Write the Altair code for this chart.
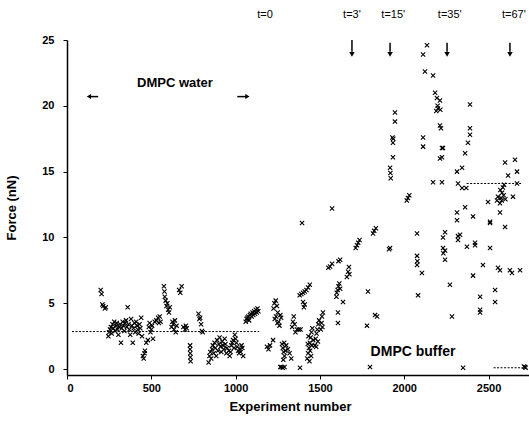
import altair as alt
import pandas as pd

# ---- data ----
water_x = [200, 205, 210, 215, 225, 230,
           245, 250, 255, 260, 265, 270, 275, 280, 285, 290, 295, 300, 305, 310, 315, 320,
           325, 330, 335, 340, 345, 350, 355, 360, 365, 370, 375, 380, 385, 390, 395, 400,
           405, 410, 415, 420, 425, 430, 435, 440, 445,
           450, 455, 460, 462,
           470, 480, 485, 490, 495, 500, 505, 510, 520, 530, 540, 545, 550, 555,
           575, 578, 580, 585, 590, 595, 600, 605, 610,
           620, 625, 630, 635, 640, 645, 650,
           665, 672, 680,
           690, 700, 705, 710,
           730, 730, 731, 732, 733,
           780, 785, 790, 795, 800, 805,
           840, 845, 850, 855, 860, 865, 870, 875, 880, 885, 890, 895, 900, 905, 910, 915,
           920, 925, 930, 935, 940, 945, 950,
           960, 965, 970, 975, 980, 985, 990,
           995, 1000, 1005, 1010, 1015, 1020, 1025, 1030, 1035, 1040, 1045,
           1060, 1065, 1070, 1075, 1080, 1085, 1090, 1095, 1100, 1105, 1110, 1115, 1120,
           1125, 1130, 1135]
water_y = [6.0, 5.7, 4.9, 4.8, 4.6, 4.7,
           2.5, 2.8, 3.0, 3.2, 2.7, 3.4, 3.1, 3.6, 2.9, 3.3, 3.5, 3.0, 2.6, 3.2, 3.4, 2.0,
           3.1, 3.6, 3.3, 2.9, 3.5, 3.7, 3.2, 4.7, 3.4, 3.0, 2.6, 3.8, 3.3, 2.0, 3.1, 3.5,
           2.8, 3.6, 3.3, 3.0, 2.7, 3.4, 3.1, 3.9, 2.5,
           1.0, 0.8, 1.2, 1.4,
           2.0, 2.2, 3.2, 3.5, 2.8, 3.0, 3.3, 2.3, 3.6, 3.7, 3.9, 3.5, 4.0, 3.6,
           6.3, 5.9, 5.5, 5.2, 4.8, 5.0, 4.5, 4.3, 4.7,
           3.2, 3.6, 3.4, 3.0, 3.7, 2.8, 3.3,
           6.0, 5.8, 6.3,
           3.2, 3.0, 3.3, 3.1,
           1.8, 1.5, 1.2, 0.9, 0.6,
           4.2, 3.8, 3.9, 3.4, 2.9, 2.8,
           0.5, 1.0, 1.3, 0.8, 1.5, 1.8, 1.2, 2.0, 1.6, 1.0, 2.2, 1.4, 1.9, 2.4, 1.7, 1.3,
           2.1, 1.8, 1.5, 2.3, 1.9, 1.2, 1.6,
           1.4, 1.0, 1.3, 1.8, 2.0, 2.2, 1.6,
           2.6, 2.3, 2.0, 1.7, 1.4, 1.2, 1.5, 1.3, 1.8, 1.6, 1.0,
           3.6, 3.8, 3.9, 4.0, 3.7, 4.1, 4.2, 4.0, 4.3, 4.1, 4.4, 4.2, 4.5,
           4.3, 4.6, 4.4]

trans_x = [1186, 1195, 1204, 1222,
           1225, 1230, 1238, 1245, 1250, 1240, 1232, 1255, 1260, 1265, 1270, 1248,
           1275, 1280, 1285, 1290, 1283, 1295, 1300, 1288, 1310, 1320, 1330,
           1265, 1272, 1280, 1290, 1382,
           1335, 1340, 1345, 1350, 1364, 1355, 1375, 1385,
           1394, 1400, 1405, 1410,
           1380, 1390, 1400, 1410, 1420, 1430, 1440,
           1425, 1430, 1435, 1440, 1445, 1450, 1455, 1432, 1448, 1442, 1438, 1452, 1460, 1428,
           1470, 1475, 1480, 1485, 1490, 1495, 1478, 1488,
           1505, 1510, 1512, 1518, 1515,
           1572, 1550, 1560, 1572, 1610, 1620,
           1598, 1600, 1605, 1610, 1615, 1620,
           1607, 1607, 1637,
           1660, 1667, 1672, 1675,
           1712, 1720, 1727, 1735,
           1779, 1785, 1797, 1827, 1839, 1815, 1822, 1832]
trans_y = [1.7, 1.5, 1.8, 2.2,
           4.6, 5.0, 5.2, 4.8, 4.3, 4.0, 3.8, 3.6, 3.3, 4.1, 3.9, 3.5,
           1.9, 1.6, 1.3, 1.0, 0.7, 1.4, 1.8, 2.0, 1.5, 1.2, 0.8,
           0.15, 0.15, 0.1, 0.15, 0.1,
           3.2, 3.6, 4.0, 3.4, 3.0, 2.8, 3.0, 3.0,
           11.1, 5.1, 4.7, 4.9,
           5.6, 5.7, 5.8, 5.9, 6.0, 6.2, 6.4,
           0.8, 1.2, 1.6, 2.0, 2.4, 2.8, 3.1, 2.5, 1.0, 1.4, 0.6, 1.8, 2.2, 1.9,
           1.8, 2.3, 2.7, 3.0, 3.4, 3.7, 1.7, 2.1,
           3.0, 3.5, 4.0, 4.3, 3.2,
           12.2, 7.7, 7.8, 8.0, 8.2, 8.3,
           5.5, 5.8, 6.0, 6.3, 6.5, 6.1,
           4.3, 3.5, 5.1,
           7.0, 7.4, 7.75, 7.2,
           9.2, 9.4, 9.6, 9.8,
           3.3, 5.9, 0.15, 4.1, 4.0, 10.3, 10.5, 10.7]

buffer_x = [1910, 1916, 1916, 1918, 1920, 1930, 1933, 1935, 1933, 1945, 1945,
            2015, 2022, 2030,
            2076, 2076, 2078, 2076, 2105, 2082,
            2112, 2135, 2123, 2171, 2183, 2194, 2198, 2190, 2200, 2212, 2230, 2212,
            2112, 2112,
            2171, 2212, 2214, 2218, 2224, 2224, 2224,
            2230, 2230, 2232, 2242, 2242, 2242, 2271, 2283,
            2313, 2313, 2331, 2319, 2319, 2361, 2408,
            2390, 2390, 2390, 2378, 2361, 2343, 2313, 2319, 2343, 2368,
            2372, 2420, 2420, 2408, 2450, 2450, 2450, 2467, 2349,
            2497, 2509, 2509, 2509, 2539, 2539, 2550, 2556, 2568, 2568, 2568,
            2598, 2598, 2616, 2627, 2639, 2657, 2669, 2687, 2645, 2556, 2669,
            2575, 2580, 2585, 2590, 2578, 2592, 2570, 2600,
            2710, 2716, 2720]
buffer_y = [9.1, 9.2, 15.3, 14.9, 14.5, 17.6, 17.2, 17.5, 16.1, 19.5, 18.8,
            12.8, 13.0, 13.2,
            10.3, 8.6, 8.2, 7.9, 7.3, 5.6,
            23.9, 24.6, 22.6, 22.3, 21.0, 20.6, 20.0, 19.6, 19.8, 18.5, 16.8, 16.0,
            17.6, 16.9,
            14.2, 20.4, 19.7, 18.3, 16.8, 16.1, 14.2,
            10.0, 9.2, 8.8, 10.4, 9.0, 8.3, 6.4, 4.0,
            11.3, 11.9, 10.2, 9.8, 10.1, 12.3, 11.6,
            20.1, 18.3, 17.8, 17.2, 16.4, 15.3, 15.0, 14.1, 13.75, 13.75,
            9.3, 9.4, 9.6, 7.1, 5.5, 4.5, 4.3, 7.9, 0.1,
            12.7, 11.2, 11.1, 9.2, 6.0, 5.1, 12.8, 7.7, 12.6, 11.9, 7.5,
            10.8, 15.7, 14.7, 7.5, 7.3, 15.9, 15.0, 7.5, 13.1, 13.1, 14.1,
            13.0, 13.4, 13.8, 13.2, 12.8, 14.0, 13.6, 12.9,
            0.2, 0.15, 0.1]

# mean-level segments
mean_x1 = [30, 2370, 2530]
mean_x2 = [1140, 2700, 2700]
mean_y = [2.85, 14.1, 0.1]

# time markers
t_labels = ["t=0", "t=3'", "t=15'", "t=35'", "t=67'"]
t_x = [1174, 1690, 1935, 2270, 2650]
arrow_x = [1690, 1916, 2254, 2627]

pts = pd.DataFrame({"x": water_x + trans_x + buffer_x,
                    "y": water_y + trans_y + buffer_y})
means = pd.DataFrame({"x1": mean_x1, "x2": mean_x2, "y": mean_y})
tlab = pd.DataFrame({"t": t_labels, "x": t_x, "y": [26.9] * len(t_x)})
arr = pd.DataFrame({"x": arrow_x, "y1": [25.0, 24.8, 24.8, 24.8], "y2": [24.1] * 4,
                    "yh": [23.9] * 4})

X = alt.Scale(domain=[0, 2740], nice=False, zero=False)
Y = alt.Scale(domain=[-0.45, 25], nice=False, zero=False)
FONT = "Liberation Sans"

xaxis = alt.Axis(values=[0, 500, 1000, 1500, 2000, 2500], format="d", title="Experiment number",
                 labelFont=FONT, labelFontWeight="bold", labelFontSize=11, labelColor="black",
                 titleFont=FONT, titleFontWeight="bold", titleFontSize=13, titleColor="black",
                 titleX=223, titleY=25, grid=False, tickSize=4, tickColor="black",
                 domainColor="black", domainWidth=1.5, labelPadding=3)
yaxis = alt.Axis(values=[0, 2.5, 5, 7.5, 10, 12.5, 15, 17.5, 20, 22.5, 25],
                 labelExpr="datum.value % 5 == 0 ? datum.label : ''",
                 title="Force (nN)",
                 labelFont=FONT, labelFontWeight="bold", labelFontSize=11, labelColor="black",
                 titleFont=FONT, titleFontWeight="bold", titleFontSize=13, titleColor="black",
                 titleX=-49, grid=False, tickSize=4, tickColor="black",
                 domainColor="black", domainWidth=1.5, labelPadding=9)

cross = "M-1,-1L1,1M-1,1L1,-1"

points = alt.Chart(pts).mark_point(shape=cross, size=18, filled=False, color="black",
                                   strokeWidth=1.1, opacity=1).encode(
    x=alt.X("x:Q", scale=X, axis=xaxis),
    y=alt.Y("y:Q", scale=Y, axis=yaxis))

mean_rules = alt.Chart(means).mark_rule(color="black", strokeDash=[2, 1.5], strokeWidth=1).encode(
    x="x1:Q", x2="x2:Q", y="y:Q")

tl = alt.Chart(tlab).mark_text(font=FONT, fontSize=11, color="black").encode(
    x="x:Q", y="y:Q", text="t:N")

shafts = alt.Chart(arr).mark_rule(color="black", strokeWidth=1.5).encode(
    x="x:Q", y="y1:Q", y2="y2:Q")
heads = alt.Chart(arr).mark_point(shape="triangle-down", size=30, filled=True,
                                  color="black", opacity=1).encode(x="x:Q", y="yh:Q")

notes = pd.DataFrame({"t": ["DMPC water", "DMPC buffer"], "x": [640, 2052], "y": [21.7, 1.3],
                      "s": [13, 14]})
note_text = alt.Chart(notes).mark_text(font=FONT, fontWeight="bold", color="black").encode(
    x="x:Q", y="y:Q", text="t:N", size=alt.Size("s:Q", scale=None, legend=None))

span = pd.DataFrame({"x1": [130, 1010], "x2": [185, 1065], "y": [20.7, 20.7]})
span_rules = alt.Chart(span).mark_rule(color="black", strokeWidth=1.5).encode(
    x="x1:Q", x2="x2:Q", y="y:Q")
span_heads = pd.DataFrame({"x": [130, 1070], "y": [20.7, 20.7],
                           "shape": ["triangle-left", "triangle-right"]})
span_pts = alt.Chart(span_heads).mark_point(size=25, filled=True, color="black", opacity=1).encode(
    x="x:Q", y="y:Q", shape=alt.Shape("shape:N", scale=None, legend=None))

chart = alt.layer(points, mean_rules, tl, shafts, heads, note_text, span_rules, span_pts).properties(
    width=462, height=335,
    autosize=alt.AutoSizeParams(type="none"),
    padding={"left": 67, "top": 40, "right": 0, "bottom": 52},
    background="white",
).configure_view(stroke=None)

chart.save("out.html", embed_options={"renderer": "svg", "actions": False})
